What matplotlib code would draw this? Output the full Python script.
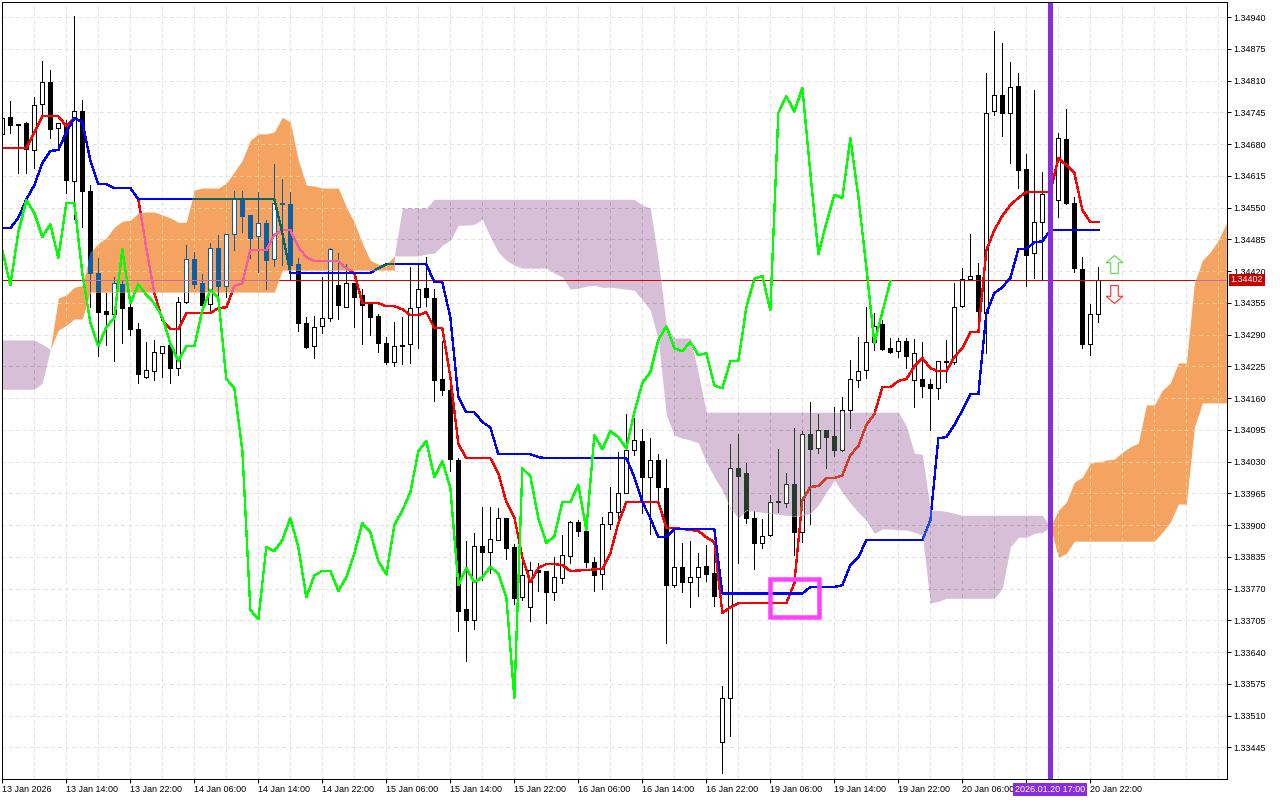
import numpy as np
import matplotlib
matplotlib.use("Agg")
import matplotlib.pyplot as plt
from matplotlib.patches import Rectangle
from matplotlib.path import Path
from matplotlib.transforms import blended_transform_factory

plt.rcParams['font.family'] = ['Liberation Sans', 'DejaVu Sans']
plt.rcParams['font.size'] = 6.5

# GBPUSD style H1 candles
opens = [1.34701,1.34735,1.34719,1.34723,1.34668,1.34762,1.34807,1.34713,1.34723,1.34604,
         1.34748,1.34584,1.34416,1.34338,1.34332,1.34393,1.34346,1.34301,1.34203,1.34215,
         1.34252,1.34268,1.34221,1.34356,1.34445,1.34395,1.34352,1.34467,1.34389,1.34496,
         1.34567,1.34535,1.34492,1.34518,1.34445,1.34559,1.34557,1.34434,1.34313,1.34266,
         1.34307,1.34324,1.34391,1.34346,1.34395,1.34371,1.34352,1.34328,1.34272,1.34234,
         1.34268,1.34270,1.34346,1.34385,1.34365,1.34199,1.34176,1.34033,1.33728,1.33705,
         1.33857,1.33844,1.33869,1.33914,1.33855,1.33752,1.33732,1.33808,1.33806,1.33763,
         1.33791,1.33836,1.33906,1.33888,1.33824,1.33799,1.33902,1.33926,1.33965,1.34053,
         1.34072,1.33998,1.34033,1.33976,1.33777,1.33814,1.33783,1.33793,1.33816,1.33801,
         1.33455,1.33545,1.34016,1.34006,1.33914,1.33863,1.33879,1.33949,1.33945,1.33984,
         1.33885,1.34086,1.34057,1.34094,1.34082,1.34053,1.34135,1.34197,1.34217,1.34275,
         1.34311,1.34262,1.34256,1.34277,1.34197,1.34199,1.34189,1.34180,1.34236,1.34234,
         1.34348,1.34404,1.34412,1.34334,1.34748,1.34780,1.34744,1.34799,1.34629,1.34457,
         1.34520,1.34578,1.34566,1.34690,1.34559,1.34424,1.34270,1.34332]
closes = [1.34733,1.34719,1.34722,1.34670,1.34760,1.34807,1.34711,1.34723,1.34606,1.34748,
          1.34584,1.34416,1.34336,1.34332,1.34395,1.34344,1.34301,1.34209,1.34217,1.34254,
          1.34266,1.34221,1.34356,1.34445,1.34393,1.34350,1.34467,1.34389,1.34496,1.34567,
          1.34533,1.34488,1.34518,1.34442,1.34559,1.34557,1.34432,1.34313,1.34264,1.34305,
          1.34324,1.34465,1.34350,1.34395,1.34367,1.34350,1.34326,1.34272,1.34234,1.34266,
          1.34266,1.34344,1.34383,1.34367,1.34197,1.34176,1.34035,1.33724,1.33705,1.33857,
          1.33844,1.33871,1.33914,1.33853,1.33750,1.33797,1.33808,1.33804,1.33763,1.33793,
          1.33838,1.33906,1.33888,1.33824,1.33797,1.33902,1.33926,1.33965,1.34053,1.34074,
          1.33998,1.34033,1.33978,1.33777,1.33814,1.33783,1.33793,1.33814,1.33799,1.33754,
          1.33545,1.34016,1.34000,1.33914,1.33863,1.33877,1.33947,1.33947,1.33984,1.33885,
          1.34086,1.34055,1.34094,1.34080,1.34053,1.34135,1.34199,1.34215,1.34275,1.34307,
          1.34260,1.34254,1.34277,1.34246,1.34252,1.34185,1.34180,1.34236,1.34234,1.34346,
          1.34404,1.34410,1.34338,1.34744,1.34780,1.34744,1.34797,1.34627,1.34453,1.34520,
          1.34578,1.34566,1.34692,1.34559,1.34426,1.34270,1.34332,1.34402]
highs = [1.34737,1.34768,1.34722,1.34725,1.34776,1.34850,1.34832,1.34723,1.34729,1.34942,
         1.34770,1.34596,1.34447,1.34375,1.34408,1.34402,1.34361,1.34313,1.34275,1.34279,
         1.34266,1.34268,1.34367,1.34473,1.34459,1.34414,1.34477,1.34494,1.34496,1.34584,
         1.34584,1.34535,1.34582,1.34524,1.34639,1.34608,1.34582,1.34447,1.34326,1.34328,
         1.34408,1.34467,1.34457,1.34434,1.34395,1.34383,1.34352,1.34332,1.34285,1.34315,
         1.34326,1.34428,1.34436,1.34449,1.34383,1.34277,1.34203,1.34037,1.33867,1.33883,
         1.33937,1.33937,1.33935,1.33914,1.33861,1.33838,1.33824,1.33822,1.33806,1.33834,
         1.33879,1.33908,1.33910,1.33900,1.33834,1.33916,1.33978,1.34049,1.34127,1.34119,
         1.34096,1.34078,1.34045,1.34035,1.33896,1.33863,1.33867,1.33842,1.33859,1.33853,
         1.33570,1.34066,1.34086,1.34027,1.33928,1.33912,1.33961,1.34055,1.34006,1.34098,
         1.34092,1.34152,1.34127,1.34094,1.34141,1.34162,1.34238,1.34285,1.34346,1.34334,
         1.34320,1.34283,1.34283,1.34283,1.34281,1.34275,1.34199,1.34236,1.34279,1.34395,
         1.34426,1.34496,1.34436,1.34825,1.34911,1.34887,1.34848,1.34825,1.34660,1.34791,
         1.34623,1.34627,1.34703,1.34752,1.34572,1.34449,1.34352,1.34428]
lows = [1.34701,1.34703,1.34621,1.34621,1.34631,1.34735,1.34692,1.34668,1.34580,1.34527,
        1.34510,1.34346,1.34246,1.34268,1.34236,1.34272,1.34289,1.34191,1.34201,1.34197,
        1.34203,1.34191,1.34207,1.34354,1.34385,1.34350,1.34340,1.34367,1.34367,1.34463,
        1.34500,1.34447,1.34418,1.34383,1.34430,1.34432,1.34402,1.34297,1.34262,1.34242,
        1.34293,1.34318,1.34322,1.34346,1.34305,1.34270,1.34289,1.34254,1.34229,1.34225,
        1.34229,1.34232,1.34262,1.34348,1.34154,1.34166,1.34010,1.33683,1.33621,1.33687,
        1.33787,1.33801,1.33869,1.33830,1.33738,1.33746,1.33703,1.33765,1.33699,1.33746,
        1.33781,1.33822,1.33877,1.33814,1.33765,1.33769,1.33892,1.33910,1.33965,1.34043,
        1.33924,1.33881,1.33949,1.33658,1.33773,1.33763,1.33732,1.33754,1.33785,1.33734,
        1.33392,1.33468,1.33822,1.33904,1.33810,1.33853,1.33877,1.33926,1.33937,1.33838,
        1.33865,1.33902,1.34047,1.34017,1.34041,1.34051,1.34098,1.34182,1.34201,1.34258,
        1.34258,1.34252,1.34244,1.34221,1.34141,1.34162,1.34094,1.34158,1.34193,1.34229,
        1.34346,1.34404,1.34315,1.34252,1.34739,1.34696,1.34641,1.34590,1.34389,1.34406,
        1.34402,1.34555,1.34531,1.34557,1.34418,1.34262,1.34248,1.34315]

# tenkan (red) and kijun (blue): bar numbers where the line bends, and the price there
tenkan_bar = [0,3,5,7,8,9,10,11,12,13,14,16,17,18,19,20,21,22,23,26,27,28,29,30,31,33,34,35,36,37,38,39,42,43,44,45,47,48,49,50,51,52,53,54,55,56,57,58,61,62,63,64,65,66,67,68,69,70,71,75,76,77,78,82,83,84,86,87,88,89,90,91,92,98,99,100,101,102,103,104,105,106,107,108,109,110,111,112,113,114,115,116,117,118,119,120,121,122,123,124,125,126,127,128,130,131,132,133,134,135,136,137]
tenkan = [1.34672,1.34672,1.34737,1.34737,1.34717,1.34733,1.34725,1.34647,1.34598,1.34598,1.34590,1.34590,1.34567,1.34467,1.34375,1.34320,1.34301,1.34301,1.34334,1.34334,1.34344,1.34346,1.34389,1.34395,1.34463,1.34463,1.34494,1.34504,1.34504,1.34469,1.34449,1.34440,1.34440,1.34426,1.34416,1.34354,1.34354,1.34348,1.34348,1.34342,1.34330,1.34330,1.34336,1.34303,1.34303,1.34203,1.34066,1.34037,1.34037,1.34006,1.33947,1.33916,1.33834,1.33783,1.33812,1.33820,1.33820,1.33818,1.33806,1.33810,1.33842,1.33904,1.33947,1.33947,1.33894,1.33894,1.33890,1.33888,1.33875,1.33865,1.33720,1.33732,1.33740,1.33740,1.33781,1.33951,1.33978,1.33980,1.33996,1.33996,1.34002,1.34043,1.34062,1.34105,1.34127,1.34182,1.34182,1.34195,1.34199,1.34225,1.34242,1.34221,1.34215,1.34215,1.34244,1.34262,1.34295,1.34295,1.34463,1.34504,1.34533,1.34555,1.34570,1.34582,1.34582,1.34582,1.34651,1.34637,1.34621,1.34545,1.34520,1.34520]
kijun_bar = [0,1,2,3,4,5,6,7,8,9,10,11,12,13,14,16,17,34,35,36,46,47,48,53,54,55,56,57,58,59,60,61,62,66,67,68,78,79,80,81,82,83,84,89,90,100,101,104,105,106,107,108,115,116,117,118,119,120,121,122,123,124,125,126,127,128,129,130,131,137]
kijun = [1.34508,1.34508,1.34529,1.34567,1.34596,1.34641,1.34666,1.34668,1.34705,1.34733,1.34725,1.34647,1.34598,1.34598,1.34590,1.34590,1.34567,1.34567,1.34498,1.34416,1.34416,1.34426,1.34434,1.34434,1.34397,1.34397,1.34326,1.34162,1.34131,1.34131,1.34111,1.34100,1.34045,1.34045,1.34039,1.34037,1.34037,1.33998,1.33947,1.33914,1.33875,1.33875,1.33892,1.33892,1.33760,1.33760,1.33773,1.33773,1.33777,1.33818,1.33834,1.33869,1.33869,1.33910,1.34078,1.34080,1.34105,1.34135,1.34168,1.34168,1.34334,1.34375,1.34387,1.34406,1.34465,1.34465,1.34479,1.34481,1.34504,1.34504]
# chikou (green), one value per bar from the first bar
chikou = [1.34463,1.34391,1.34500,1.34565,1.34539,1.34490,1.34516,1.34447,1.34559,1.34559,
          1.34416,1.34315,1.34266,1.34305,1.34324,1.34465,1.34354,1.34393,1.34371,1.34354,
          1.34326,1.34272,1.34236,1.34266,1.34266,1.34340,1.34381,1.34365,1.34199,1.34180,
          1.34053,1.33726,1.33707,1.33855,1.33847,1.33869,1.33914,1.33855,1.33752,1.33797,
          1.33806,1.33806,1.33765,1.33793,1.33842,1.33904,1.33885,1.33826,1.33799,1.33900,
          1.33930,1.33967,1.34051,1.34072,1.33998,1.34031,1.33976,1.33777,1.33812,1.33783,
          1.33793,1.33814,1.33801,1.33752,1.33545,1.34016,1.34000,1.33914,1.33863,1.33877,
          1.33947,1.33947,1.33982,1.33890,1.34084,1.34055,1.34092,1.34080,1.34057,1.34131,
          1.34191,1.34213,1.34279,1.34307,1.34262,1.34256,1.34275,1.34248,1.34252,1.34186,
          1.34180,1.34236,1.34236,1.34346,1.34404,1.34410,1.34340,1.34744,1.34778,1.34746,
          1.34795,1.34621,1.34455,1.34518,1.34576,1.34570,1.34692,1.34572,1.34428,1.34272,
          1.34336,1.34399]

# cloud pieces: first bar, top edge, bottom edge
purple1_start = 0
purple1_top = [1.34279,1.34279,1.34279,1.34279,1.34279,1.34270,1.34260]
purple1_bot = [1.34178,1.34178,1.34178,1.34178,1.34178,1.34191,1.34260]
orange1_start = 6
orange1_top = [1.34260,1.34365,1.34371,1.34387,1.34391,1.34457,1.34477,1.34488,1.34510,1.34522,1.34524,1.34539,1.34541,1.34541,1.34535,1.34529,1.34520,1.34520,1.34586,1.34590,1.34590,1.34590,1.34600,1.34623,1.34647,1.34688,1.34701,1.34701,1.34705,1.34735,1.34725,1.34647,1.34596,1.34594,1.34590,1.34590,1.34590,1.34551,1.34520,1.34477,1.34442,1.34434,1.34434,1.34451]
orange1_bot = [1.34260,1.34299,1.34309,1.34322,1.34322,
               1.34377,1.34377,1.34377,1.34377,1.34377,1.34377,1.34377,1.34377,1.34377,1.34377,1.34377,1.34377,
               1.34377,1.34377,1.34377,1.34377,1.34377,1.34377,1.34377,1.34377,1.34377,1.34377,1.34377,1.34377,
               1.34422,1.34422,1.34422,1.34422,1.34422,1.34422,1.34422,1.34422,1.34422,1.34422,1.34422,1.34422,1.34422,1.34422,1.34422]
purple2_start = 49
purple2_top = [1.34451,1.34549,1.34549,1.34549,1.34549,
               1.34567,1.34567,1.34567,1.34567,1.34567,1.34567,1.34567,1.34567,1.34567,1.34567,1.34567,1.34567,1.34567,
               1.34567,1.34567,1.34567,1.34567,1.34567,1.34567,1.34567,1.34567,1.34567,1.34567,1.34567,1.34567,1.34567,
               1.34555,1.34549,1.34442,1.34309,1.34283,1.34283,1.34283,1.34211,
               1.34131,1.34131,1.34131,1.34131,1.34131,1.34131,1.34131,1.34131,1.34131,1.34131,1.34131,1.34131,1.34131,
               1.34131,1.34131,1.34131,1.34131,1.34131,1.34131,1.34131,1.34131,1.34131,1.34131,1.34131,1.34131,
               1.34103,1.34047,1.34045,1.33930,1.33930,1.33928,1.33924,
               1.33920,1.33920,1.33920,1.33920,1.33920,1.33920,1.33920,1.33920,1.33920,1.33920,1.33920,1.33896]
purple2_bot = [1.34451,1.34451,1.34451,1.34451,1.34455,1.34457,1.34473,1.34483,1.34514,1.34514,1.34516,1.34526,1.34490,1.34459,1.34442,1.34432,1.34426,1.34426,1.34426,1.34426,1.34416,1.34408,1.34383,1.34385,1.34389,1.34391,1.34387,1.34387,1.34385,1.34383,1.34381,1.34361,1.34340,1.34279,1.34125,1.34084,1.34078,1.34074,1.34068,1.34029,1.33998,1.33971,1.33935,1.33914,1.33930,1.33928,1.33926,1.33924,1.33922,1.33920,1.33918,1.33920,1.33924,1.33941,1.33967,1.33992,1.33967,1.33945,1.33926,1.33910,1.33883,1.33892,1.33892,1.33890,1.33890,1.33885,1.33879,1.33740,1.33744,1.33750,1.33750,1.33750,1.33750,1.33750,1.33750,1.33750,1.33771,1.33855,1.33875,1.33875,1.33883,1.33885,1.33896]
orange2_start = 131
orange2_top = [1.33896,1.33930,1.33947,1.33988,1.33998,1.34027,1.34029,1.34033,1.34035,1.34049,1.34060,1.34068,1.34146,1.34146,1.34176,1.34191,1.34232,1.34232,1.34395,1.34442,1.34459,1.34483,1.34518]
orange2_bot = [1.33896,1.33834,1.33842,1.33867,1.33867,1.33867,1.33867,1.33867,1.33867,1.33867,1.33867,1.33867,1.33867,1.33867,1.33885,1.33906,1.33943,1.33943,1.34100,1.34150,1.34150,1.34150,1.34150]

last_price = 1.34402
selected_bar = 131
box_bars = [95.96, 102.1]
box_prices = [1.33711, 1.33789]
up_arrow = [139, 1.34434]
down_arrow = [139, 1.34374]

xtick_bars = [0,8,16,24,32,40,48,56,64,72,80,88,96,104,112,120,128,136]
# the 20 Jan 14:00 label sits under the purple time box in the terminal
xtick_labels = ['13 Jan 2026','13 Jan 14:00','13 Jan 22:00','14 Jan 06:00','14 Jan 14:00','14 Jan 22:00',
                '15 Jan 06:00','15 Jan 14:00','15 Jan 22:00','16 Jan 06:00','16 Jan 14:00','16 Jan 22:00',
                '19 Jan 06:00','19 Jan 14:00','19 Jan 22:00','20 Jan 06:00','','20 Jan 22:00']
ytick_prices = [1.34940,1.34875,1.34810,1.34745,1.34680,1.34615,1.34550,1.34485,1.34420,1.34355,1.34290,1.34225,
                1.34160,1.34095,1.34030,1.33965,1.33900,1.33835,1.33770,1.33705,1.33640,1.33575,1.33510,1.33445]

PX = 0.72  # one pixel in points at dpi 100
LINE = 1.3 * PX

opens = np.array(opens)
closes = np.array(closes)
highs = np.array(highs)
lows = np.array(lows)
bars = np.arange(len(opens))

fig = plt.figure(figsize=(12.8, 8), dpi=100)
ax = fig.add_axes([2 / 1280, 1 - 779 / 800, 1225 / 1280, 777 / 800])
ax.set_xlim(-0.04, 153.08)
ax.set_ylim(1.33380, 1.34971)


def fix(artist, clip):
    artist.set_antialiased(False)
    if clip is not None:
        artist.set_clip_path(clip.get_paths()[0], clip.get_transform())


# cloud is xor-like in the terminal, so everything under it is drawn again clipped in the mixed colour
def layer(candle, red, blue, grid, price, clip, z):
    for b in range(4, 154, 4):
        fix(ax.axvline(b, color=grid, lw=PX, ls=(0, (4, 4)), zorder=z), clip)
    for p in ytick_prices:
        fix(ax.axhline(p, color=grid, lw=PX, ls=(0, (4, 4)), zorder=z), clip)
    fix(ax.vlines(bars, lows, highs, color=candle, lw=PX, zorder=z + 0.1), clip)
    up = closes >= opens
    body = ax.bar(bars[~up], (closes - opens)[~up], bottom=opens[~up], width=0.5,
                  color=candle, edgecolor=candle, lw=PX, zorder=z + 0.2)
    for r in body:
        fix(r, clip)
    body = ax.bar(bars[up], (closes - opens)[up], bottom=opens[up], width=0.5,
                  color='white', edgecolor=candle, lw=PX, zorder=z + 0.2)
    for r in body:
        fix(r, clip)
    fix(ax.axhline(last_price, color=price, lw=PX, zorder=z + 0.3), clip)
    fix(ax.plot(tenkan_bar, tenkan, color=red, lw=LINE, zorder=z + 0.4)[0], clip)
    fix(ax.plot(kijun_bar, kijun, color=blue, lw=LINE, zorder=z + 0.5)[0], clip)
    fix(ax.plot(bars[:len(chikou)], chikou, color='#00ff00', lw=LINE, zorder=z + 0.6)[0], clip)


def cloud(start, top, bot, color):
    xs = np.arange(start, start + len(top))
    poly = ax.fill_between(xs, bot, top, color=color, lw=0, zorder=4)
    poly.set_antialiased(False)
    return poly


layer('black', '#ff0000', '#0000ff', '#e4e4e4', '#d80000', None, 2)

for start, top, bot in [(orange1_start, orange1_top, orange1_bot), (orange2_start, orange2_top, orange2_bot)]:
    p = cloud(start, top, bot, '#f4a460')
    layer('#0a5fa5', '#f060a0', '#0b6565', '#f6c88e', '#c070a0', p, 5)

for start, top, bot in [(purple1_start, purple1_top, purple1_bot), (purple2_start, purple2_top, purple2_bot)]:
    p = cloud(start, top, bot, '#d8bfd8')
    layer('#263d2a', '#cf3f2b', '#2050e0', '#baa4ba', '#e00000', p, 5)

ax.axvline(selected_bar, color='#8a2be2', lw=5 * PX, zorder=9)

ax.add_patch(Rectangle((box_bars[0], box_prices[0]), box_bars[1] - box_bars[0], box_prices[1] - box_prices[0],
                       fill=False, ec='#ff40ff', lw=4.5 * PX, joinstyle='miter', zorder=9))

up_verts = [(0, 1), (0.92, 0.2), (0.42, 0.2), (0.42, -1), (-0.42, -1), (-0.42, 0.2), (-0.92, 0.2), (0, 1)]
down_verts = [(x, -y) for x, y in up_verts]
ax.plot(up_arrow[0], up_arrow[1], marker=Path(up_verts), ms=18 * PX, mfc='white', mec='#66dd55', mew=1.2 * PX, zorder=9)
ax.plot(down_arrow[0], down_arrow[1], marker=Path(down_verts), ms=18 * PX, mfc='white', mec='#ff3838', mew=1.2 * PX, zorder=9)

ax.yaxis.tick_right()
ax.set_yticks(ytick_prices)
ax.set_yticklabels(['%.5f' % p for p in ytick_prices])
ax.set_xticks(xtick_bars)
ax.set_xticklabels(xtick_labels, ha='left')
ax.tick_params(axis='both', length=4 * PX, width=PX, pad=1.5, colors='black')
for s in ax.spines.values():
    s.set_linewidth(PX)
    s.set_zorder(10)

trans = blended_transform_factory(ax.transAxes, ax.transData)
ax.text(1.0030, last_price, '%.5f' % last_price, transform=trans, color='white', va='center', ha='left', zorder=12,
        bbox=dict(boxstyle='square,pad=0.15', fc='#c80000', ec='none'))
trans = blended_transform_factory(ax.transData, ax.transAxes)
ax.text(selected_bar, -0.0135, '2026.01.20 17:00', transform=trans, color='white', va='center', ha='center', zorder=12,
        bbox=dict(boxstyle='square,pad=0.2', fc='#8a2be2', ec='none'))

fig.savefig('out.png', dpi=100)
